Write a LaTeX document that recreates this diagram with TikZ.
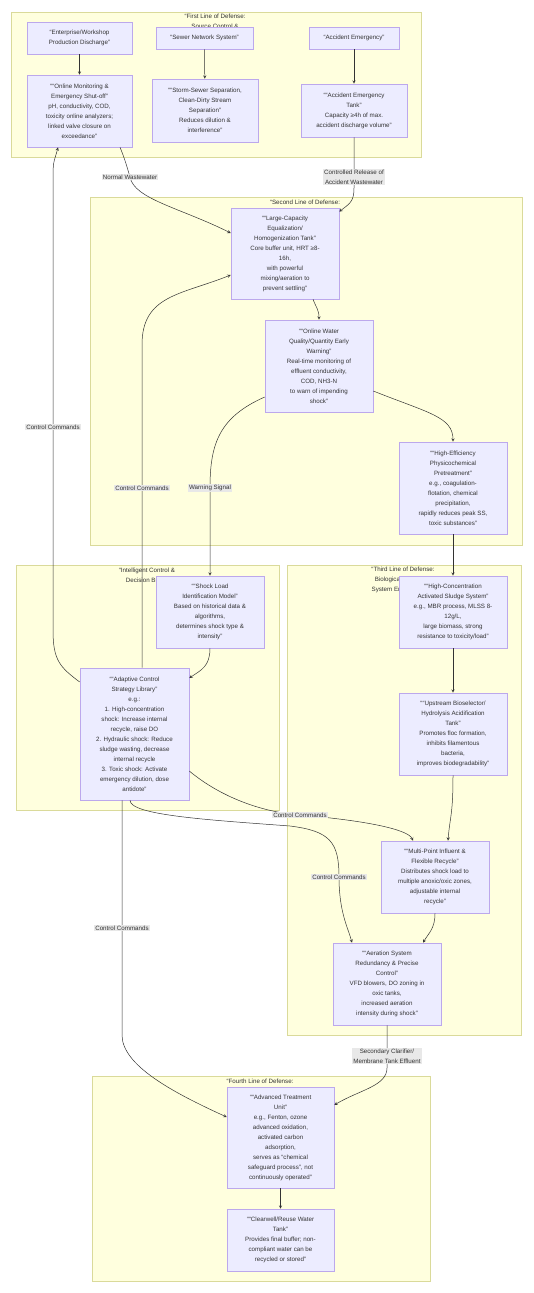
\documentclass[tikz,border=0pt]{standalone}
\usepackage{fontspec}
\setmainfont{Liberation Sans}
\usetikzlibrary{arrows,positioning,calc}
\definecolor{zonefill}{HTML}{FFFFDE}
\definecolor{zonedraw}{HTML}{DADA9A}
\definecolor{stagefill}{HTML}{ECECFF}
\definecolor{stagedraw}{HTML}{BCA8EC}
\definecolor{ink}{HTML}{333333}
\definecolor{labelfill}{HTML}{E8E8E8}

\begin{document}
\begin{tikzpicture} [> = stealth, x = 1pt, y = -1pt, font = \fontsize{6.2}{10}\selectfont, text = ink]
            % Estilos
            \tikzstyle{zone}=[draw=zonedraw, fill=zonefill, line width=0.6pt]
            \tikzstyle{zonetitle}=[align=center, inner sep=0pt]
            \tikzstyle{stage}=[draw=stagedraw, fill=stagefill, line width=0.6pt, align=center, inner sep=2pt]
            \tikzstyle{flow}=[->, draw=ink, line width=0.5pt]
            \tikzstyle{edgelabel}=[fill=labelfill, align=center, inner sep=1.2pt]

            \useasboundingbox (0,0) rectangle (533,1293);

            % Zonas
            \draw[zone] (11,12) rectangle (421,157);
            \draw[zone] (90,197) rectangle (522,545);
            \draw[zone] (16,565) rectangle (279,810);
            \draw[zone] (287,565) rectangle (521,1035);
            \draw[zone] (92,1076) rectangle (430,1281);
            \node[zonetitle] (t1) at (215,21) {“First Line of Defense:\\Source Control \&};
            \node[zonetitle] (t2) at (305,202) {“Second Line of Defense:};
            \node[zonetitle] (t3) at (147,575) {“Intelligent Control \&\\Decision Brain”};
            \node[zonetitle] (t4) at (403,580) {“Third Line of Defense:\\Biological Treatment\\System Enhancement”};
            \node[zonetitle] (t5) at (260,1081) {“Fourth Line of Defense:};

            % Nós
            \node[stage, minimum width=105, minimum height=32] (ent) at (79.5,38) {“Enterprise/Workshop\\Production Discharge”};
            \node[stage, minimum width=97, minimum height=22] (sewer) at (204.5,38) {“Sewer Network System”};
            \node[stage, minimum width=90, minimum height=22] (accem) at (354,38) {“Accident Emergency”};
            \node[stage, minimum width=105, minimum height=72] (mon) at (79.5,111) {““Online Monitoring \&\\Emergency Shut-off”\\pH, conductivity, COD,\\toxicity online analyzers;\\linked valve closure on\\exceedance”};
            \node[stage, minimum width=106, minimum height=63] (storm) at (205,110.5) {““Storm-Sewer Separation,\\Clean-Dirty Stream\\Separation”\\Reduces dilution \&\\interference”};
            \node[stage, minimum width=106, minimum height=53] (acctank) at (354,110.5) {““Accident Emergency\\Tank”\\Capacity ≥4h of max.\\accident discharge volume”};
            \node[stage, minimum width=108, minimum height=91] (eq) at (285,253.5) {““Large-Capacity\\Equalization/\\Homogenization Tank”\\Core buffer unit, HRT ≥8-\\16h,\\with powerful\\mixing/aeration to\\prevent settling”};
            \node[stage, minimum width=108, minimum height=92] (warn) at (319,366) {““Online Water\\Quality/Quantity Early\\Warning”\\Real-time monitoring of\\effluent conductivity,\\COD, NH3-N\\to warn of impending\\shock”};
            \node[stage, minimum width=108, minimum height=92] (pre) at (453,488) {““High-Efficiency\\Physicochemical\\Pretreatment”\\e.g., coagulation-\\flotation, chemical\\precipitation,\\rapidly reduces peak SS,\\toxic substances”};
            \node[stage, minimum width=108, minimum height=72] (shock) at (210,612) {““Shock Load\\Identification Model”\\Based on historical data \&\\algorithms,\\determines shock type \&\\intensity”};
            \node[stage, minimum width=109, minimum height=132] (adapt) at (134.5,734) {““Adaptive Control\\Strategy Library”\\e.g.:\\1. High-concentration\\shock: Increase internal\\recycle, raise DO\\2. Hydraulic shock: Reduce\\sludge wasting, decrease\\internal recycle\\3. Toxic shock: Activate\\emergency dilution, dose\\antidote”};
            \node[stage, minimum width=108, minimum height=72] (sludge) at (453,612) {““High-Concentration\\Activated Sludge System”\\e.g., MBR process, MLSS 8-\\12g/L,\\large biomass, strong\\resistance to toxicity/load”};
            \node[stage, minimum width=108, minimum height=82] (selector) at (453,734) {““Upstream Bioselector/\\Hydrolysis Acidification\\Tank”\\Promotes floc formation,\\inhibits filamentous\\bacteria,\\improves biodegradability”};
            \node[stage, minimum width=108, minimum height=72] (multi) at (435,877) {““Multi-Point Influent \&\\Flexible Recycle”\\Distributes shock load to\\multiple anoxic/oxic zones,\\adjustable internal\\recycle”};
            \node[stage, minimum width=108, minimum height=82] (aer) at (387,984) {““Aeration System\\Redundancy \& Precise\\Control”\\VFD blowers, DO zoning in\\oxic tanks,\\increased aeration\\intensity during shock”};
            \node[stage, minimum width=107, minimum height=101] (adv) at (280.5,1137.5) {““Advanced Treatment\\Unit”\\e.g., Fenton, ozone\\advanced oxidation,\\activated carbon\\adsorption,\\serves as “chemical\\safeguard process”, not\\continuously operated”};
            \node[stage, minimum width=107, minimum height=62] (clear) at (280.5,1240) {““Clearwell/Reuse Water\\Tank”\\Provides final buffer; non-\\compliant water can be\\recycled or stored”};

            % Ligações
            \draw[flow] (ent) -- (mon);
            \draw[flow] (sewer) -- (storm);
            \draw[flow] (accem) -- (acctank);
            \draw[flow] ([xshift=40.5pt]mon.south) .. controls +(5,12) and +(-3,-10) .. (130,177) node[edgelabel] {Normal Wastewater} .. controls +(4,22) and +(-50,-25) .. ([yshift=20.5pt]eq.west);
            \draw[flow] (acctank.south) -- (354,177) node[edgelabel] {Controlled Release of\\Accident Wastewater} -- (354,188) .. controls +(0,14) and +(10,-8) .. ([yshift=-4pt]eq.north east);
            \draw[flow] ([xshift=28pt]eq.south) .. controls +(3,8) and +(0,-10) .. (warn.north);
            \draw[flow] ([yshift=-25pt]warn.east) .. controls +(55,22) and +(0,-25) .. (pre.north);
            \draw[flow] ([yshift=-31pt]warn.west) .. controls +(-45,20) and +(0,-45) .. (210,488) node[edgelabel] {Warning Signal} -- (shock.north);
            \draw[flow] (pre) -- (sludge);
            \draw[flow] (sludge) -- (selector);
            \draw[flow] (selector.south) .. controls +(0,40) and +(2,-25) .. ([xshift=13pt]multi.north);
            \draw[flow] (multi.south) .. controls +(0,15) and +(6,-10) .. ([xshift=36pt]aer.north);
            \draw[flow] (shock.south) .. controls +(0,18) and +(12,-8) .. ([yshift=56pt]adapt.east);
            \draw[flow] ([yshift=52pt]adapt.west) .. controls +(-20,-15) and +(0,30) .. (53,630) -- (53,427) node[edgelabel] {Control Commands} -- (53,175) .. controls +(0,-15) and +(-3,12) .. ([xshift=-21.5pt]mon.south);
            \draw[flow] ([xshift=7.5pt]adapt.north) -- (142,488) node[edgelabel] {Control Commands} -- (142,345) .. controls +(0,-50) and +(-50,20) .. ([yshift=-21.5pt]eq.west);
            \draw[flow] ([xshift=-4.5pt]adapt.south) .. controls +(0,15) and +(-80,-6) .. (290,826) .. controls +(40,5) and +(0,-35) .. (339,877) node[edgelabel] {Control Commands} .. controls +(0,35) and +(-4,-15) .. ([xshift=-35pt]aer.north);
            \draw[flow] ([yshift=-37pt]adapt.east) .. controls +(30,25) and +(-40,-3) .. (300,815) node[edgelabel] {Control Commands} .. controls +(60,5) and +(-5,-12) .. ([xshift=-22pt]multi.north);
            \draw[flow] ([xshift=-12.5pt]adapt.south) -- (122,928) node[edgelabel] {Control Commands} -- (122,1035) .. controls +(0,30) and +(-55,-25) .. ([yshift=20.5pt]adv.west);
            \draw[flow] (aer.south) -- (387,1056) node[edgelabel] {Secondary Clarifier/\\Membrane Tank Effluent} -- (387,1068) .. controls +(0,18) and +(25,-15) .. ([yshift=32.5pt]adv.east);
            \draw[flow] (adv) -- (clear);
        \end{tikzpicture}
\end{document}
